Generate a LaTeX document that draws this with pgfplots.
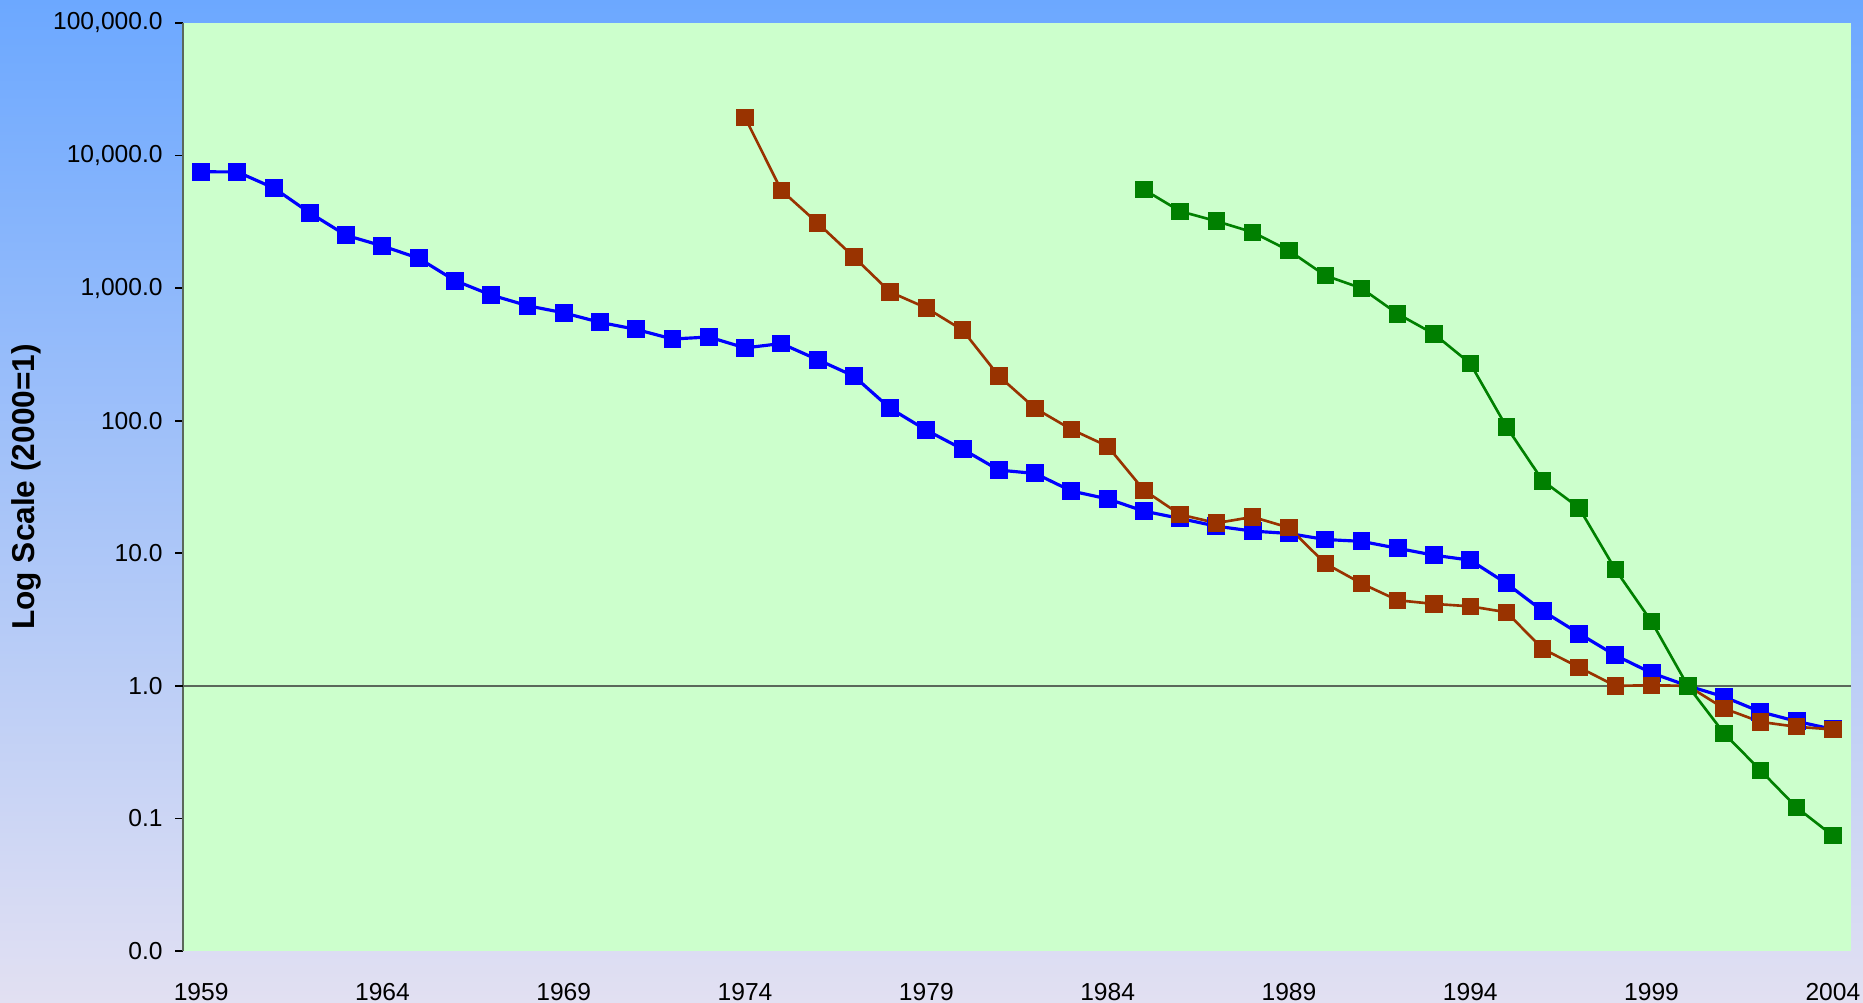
\documentclass[border=0pt]{standalone}
\usepackage{pgfplots}
\pgfplotsset{compat=1.18}
\usepackage{fontspec}
\setmainfont{Liberation Sans}

\definecolor{bgtop}{RGB}{108,168,255}
\definecolor{bgbot}{RGB}{226,224,242}
\definecolor{plotbg}{RGB}{204,255,204}
\definecolor{sblue}{RGB}{0,0,255}
\definecolor{sbrown}{RGB}{153,51,0}
\definecolor{sgreen}{RGB}{0,128,0}
\definecolor{axgray}{RGB}{90,104,90}

\begin{document}
\begin{tikzpicture}
\useasboundingbox (0,0) rectangle (18.63,10.03);
\shade[top color=bgtop, bottom color=bgbot] (0,0) rectangle (18.63,10.03);
\begin{axis}[
    at={(1.83cm,0.52cm)}, anchor=south west,
    scale only axis,
    width=16.68cm, height=9.28cm,
    ymode=log,
    xmin=1958.5, xmax=2004.5,
    ymin=0.01, ymax=100000,
    axis background/.style={fill=plotbg},
    axis lines*=left,
    x axis line style={draw=none},
    y axis line style={draw=axgray, line width=0.8pt},
    xtick={1959,1964,1969,1974,1979,1984,1989,1994,1999,2004},
    xticklabels={1959,1964,1969,1974,1979,1984,1989,1994,1999,2004},
    xtick style={draw=none},
    ytick={0.01,0.1,1,10,100,1000,10000,100000},
    yticklabels={0.0,0.1,1.0,10.0,100.0,{1,000.0},{10,000.0},{100,000.0}},
    ytick style={draw=black, line width=0.5pt},
    minor tick length=0pt,
    tick align=outside,
    major tick length=0.8mm,
    extra y ticks={1},
    extra y tick labels={},
    extra y tick style={grid=major, major grid style={draw=axgray, line width=0.6pt}},
    ticklabel style={font=\fontsize{7}{8}\selectfont},
    xticklabel style={yshift=-1.2mm},
    ylabel={Log Scale (2000=1)},
    every axis y label/.style={at={(axis description cs:-0.094,0.5)}, rotate=90, anchor=center, font=\fontsize{9}{10}\selectfont\bfseries},
    clip=false,
]
\addplot[sblue, line width=0.9pt, mark=square*, mark size=2.1pt, mark options={solid, fill=sblue, draw=sblue}] coordinates {
(1959,7550) (1960,7520) (1961,5700) (1962,3690) (1963,2500) (1964,2080)
(1965,1680) (1966,1140) (1967,887) (1968,737) (1969,651) (1970,552)
(1971,488) (1972,413) (1973,428) (1974,354) (1975,382) (1976,289)
(1977,217) (1978,124) (1979,84.8) (1980,61) (1981,42.4) (1982,40)
(1983,29.5) (1984,25.7) (1985,20.8) (1986,18.3) (1987,16.0) (1988,14.7)
(1989,14.1) (1990,12.7) (1991,12.3) (1992,10.9) (1993,9.67) (1994,8.87)
(1995,5.92) (1996,3.67) (1997,2.48) (1998,1.70) (1999,1.25) (2000,1.0)
(2001,0.826) (2002,0.637) (2003,0.54) (2004,0.47)
};
\addplot[sbrown, line width=0.75pt, mark=square*, mark size=2.1pt, mark options={solid, fill=sbrown, draw=sbrown}] coordinates {
(1974,19360) (1975,5470) (1976,3100) (1977,1720) (1978,935) (1979,709)
(1980,482) (1981,217) (1982,124) (1983,85.9) (1984,64.2) (1985,29.9)
(1986,19.6) (1987,16.9) (1988,18.8) (1989,15.6) (1990,8.38) (1991,5.92)
(1992,4.42) (1993,4.15) (1994,3.98) (1995,3.59) (1996,1.90) (1997,1.38)
(1998,1.0) (1999,1.01) (2000,1.0) (2001,0.675) (2002,0.535) (2003,0.491)
(2004,0.469)
};
\addplot[sgreen, line width=0.75pt, mark=square*, mark size=2.1pt, mark options={solid, fill=sgreen, draw=sgreen}] coordinates {
(1985,5540) (1986,3800) (1987,3200) (1988,2640) (1989,1920) (1990,1245)
(1991,998) (1992,639) (1993,451) (1994,270) (1995,89.8) (1996,35.2)
(1997,22.0) (1998,7.55) (1999,3.05) (2000,1.0) (2001,0.438) (2002,0.231)
(2003,0.121) (2004,0.074)
};
\end{axis}
\end{tikzpicture}
\end{document}
